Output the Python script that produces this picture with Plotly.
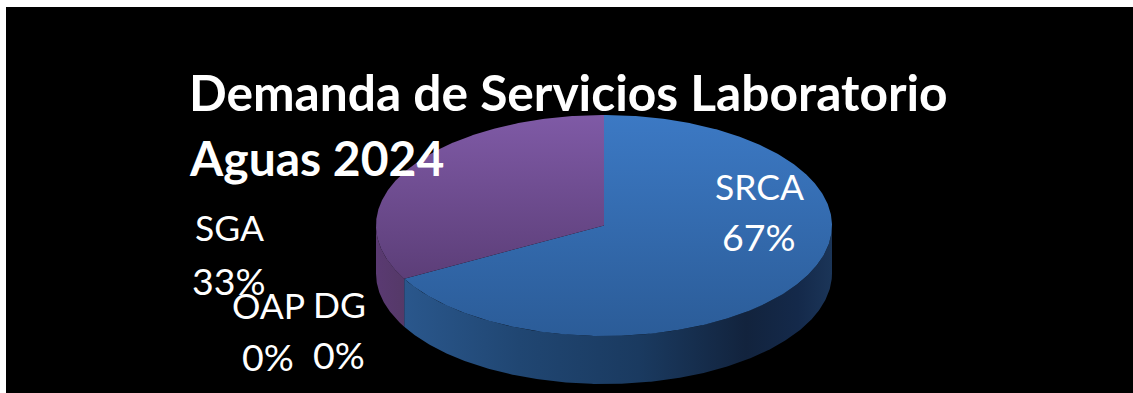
import numpy as np
import plotly.graph_objects as go

categories = ["SRCA", "SGA", "OAP", "DG"]
values = [67, 33, 0, 0]
title_lines = ["Demanda de Servicios Laboratorio", "Aguas 2024"]

# Pie projection (axis units equal page pixels)
CX, CY, RX, RY, DEPTH = 604, 225.5, 228, 110.5, 48
FONT = "Lato"
top_colors = {
    "SRCA": ("#3c79c4", "#2b5c98"),
    "SGA": ("#7f5aa6", "#5c3e78"),
}
side_stops = {
    "SRCA": [[0, "#2a578c"], [0.27, "#204672"], [0.55, "#1a3a60"], [0.8, "#12233d"], [0.92, "#14294a"], [1, "#1b3558"]],
    "SGA": [[0, "#5a3a72"], [1, "#553968"]],
}
title_pos = [(187, 92, 49.7), (187, 157, 48)]
label_pos = {
    "SRCA": ((759, 186), (759, 236)),
    "SGA": ((229, 227), (229, 280)),
    "OAP": ((268, 305), (268, 356)),
    "DG": ((339, 304), (339, 354)),
}


def arc(a0, a1, dy=0.0):
    t = np.radians(np.linspace(a0, a1, max(2, int(abs(a1 - a0) * 2) + 1)))
    return CX + RX * np.sin(t), CY - RY * np.cos(t) + dy


fig = go.Figure()
total = sum(values)
start = 0.0
sides, tops = [], []
for name, v in zip(categories, values):
    if v == 0:
        continue
    a0, a1 = start, start + 360.0 * v / total
    start = a1
    x, y = arc(a0, a1)
    tops.append(go.Scatter(
        x=np.r_[CX, x, CX], y=np.r_[CY, y, CY], mode="lines", line=dict(width=0),
        fill="toself", hoverinfo="skip",
        fillgradient=dict(type="vertical", start=float(y.min()), stop=float(max(y.max(), CY)),
                          colorscale=[[0, top_colors[name][0]], [1, top_colors[name][1]]]),
    ))
    s0, s1 = max(a0, 90), min(a1, 270)
    if s1 > s0:
        xu, yu = arc(s0, s1)
        xl, yl = arc(s1, s0, DEPTH)
        sides.append(go.Scatter(
            x=np.r_[xu, xl, xu[0]], y=np.r_[yu, yl, yu[0]], mode="lines", line=dict(width=0),
            fill="toself", hoverinfo="skip",
            fillgradient=dict(type="horizontal", start=float(xu.min()), stop=float(xu.max()),
                              colorscale=side_stops[name]),
        ))
for tr in sides + tops:
    fig.add_trace(tr)

annotations = []
for line, (tx, ty, ts) in zip(title_lines, title_pos):
    annotations.append(dict(x=tx, y=ty, text=line, xanchor="left", yanchor="middle",
                            showarrow=False, font=dict(family=FONT, size=ts, color="white", weight=700)))
for name, v in zip(categories, values):
    (x1, y1), (x2, y2) = label_pos[name]
    annotations.append(dict(x=x1, y=y1, text=name, showarrow=False, xanchor="center", yanchor="middle",
                            font=dict(family=FONT, size=35.5, color="white")))
    annotations.append(dict(x=x2, y=y2, text=f"{round(100 * v / total)}%", showarrow=False,
                            xanchor="center", yanchor="middle",
                            font=dict(family=FONT, size=37.5, color="white")))

fig.update_layout(
    width=1133, height=393, showlegend=False,
    margin=dict(l=6, r=0, t=7, b=0, pad=0),
    paper_bgcolor="white", plot_bgcolor="black",
    xaxis=dict(range=[6, 1133], visible=False, fixedrange=True),
    yaxis=dict(range=[393, 7], visible=False, fixedrange=True),
    annotations=annotations,
)
fig.write_html("out.html", config=dict(displayModeBar=False),
               post_script="document.body.style.margin='0';document.documentElement.style.overflow='hidden';")
